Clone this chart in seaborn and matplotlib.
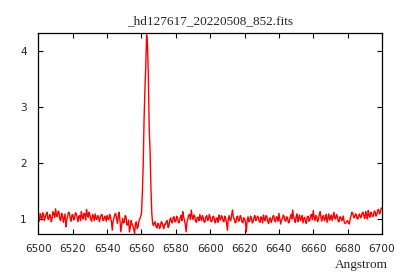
import numpy as np
import pandas as pd
import seaborn as sns
import matplotlib
matplotlib.use("Agg")
import matplotlib.pyplot as plt

# spectrum, 0.5 A sampling
wave_blue = np.linspace(6500, 6559, 119)
flux_blue = [
    1.02, 0.96, 1.10, 1.04, 0.98, 1.11, 1.08, 0.97, 1.03, 1.09,
    1.12, 1.00, 0.99, 1.08, 1.06, 0.95, 1.01, 1.13, 1.09, 1.03,
    1.18, 1.07, 1.04, 1.14, 1.12, 0.99, 0.97, 1.10, 1.07, 0.94,
    1.02, 1.09, 0.86, 0.98, 1.05, 1.12, 1.11, 1.01, 0.96, 1.07,
    1.08, 0.98, 1.01, 1.11, 1.10, 1.02, 0.95, 1.05, 1.06, 0.97,
    1.13, 1.04, 1.00, 1.10, 1.09, 0.98, 1.17, 1.08, 1.03, 1.12,
    1.07, 0.99, 0.96, 1.08, 1.05, 0.97, 1.09, 1.01, 0.99, 1.06,
    1.04, 0.95, 1.02, 1.07, 1.08, 0.98, 0.97, 1.05, 1.03, 0.96,
    1.06, 1.00, 0.99, 1.08, 1.03, 0.95, 0.80, 0.97, 1.02, 1.08,
    1.10, 1.01, 0.92, 1.05, 1.12, 0.96, 0.77, 0.90, 1.01, 0.93,
    0.94, 1.06, 1.04, 0.89, 0.90, 0.98, 0.77, 0.85, 0.97, 0.91,
    0.88, 0.81, 0.74, 0.92, 0.95, 0.83, 0.86, 0.96, 1.00,
]

# H-alpha emission core
wave_core = [6559.5, 6560.0, 6560.5, 6561.0, 6561.5, 6562.0, 6562.5, 6563.0,
             6563.5, 6564.0, 6564.5, 6565.0, 6565.5, 6566.0, 6566.5]
flux_core = [1.04, 1.10, 1.45, 1.95, 2.77, 3.30, 3.74, 4.29,
             4.12, 3.54, 2.60, 2.22, 1.55, 1.10, 0.92]

wave_red = np.linspace(6567, 6700, 267)
flux_red = [
    0.88, 0.93, 0.95, 0.86, 0.84, 0.92, 0.91, 0.83, 0.86, 0.95,
    0.94, 0.87, 0.83, 0.91, 0.90, 0.96, 0.97, 0.85, 0.88, 0.99,
    1.02, 0.94, 0.93, 1.03, 1.04, 0.95, 0.96, 1.05, 1.01, 0.93,
    0.94, 1.02, 1.06, 0.97, 1.13, 1.04, 0.98, 0.90, 0.77, 0.95,
    1.00, 1.07, 1.08, 0.99, 1.16, 1.05, 0.99, 1.07, 1.05, 0.96,
    0.94, 1.03, 1.03, 0.97, 1.08, 1.01, 0.97, 1.06, 1.02, 0.94,
    0.95, 1.04, 1.06, 0.97, 0.99, 1.08, 1.03, 0.95, 0.96, 1.04,
    1.05, 0.97, 0.93, 1.02, 1.01, 0.94, 1.07, 1.00, 0.98, 1.06,
    1.04, 0.96, 0.95, 1.05, 1.02, 0.93, 0.80, 0.99, 1.06, 0.98,
    0.97, 1.08, 1.16, 1.02, 1.01, 0.93, 0.94, 1.04, 1.05, 0.96,
    0.98, 1.06, 1.03, 0.95, 0.93, 1.02, 1.00, 0.94, 0.77, 0.97,
    1.04, 0.95, 0.96, 1.05, 1.02, 0.93, 0.95, 1.03, 1.06, 0.97,
    0.99, 1.05, 1.03, 0.96, 0.94, 1.04, 1.01, 0.93, 1.07, 1.00,
    0.97, 1.06, 1.04, 0.95, 0.92, 1.01, 1.02, 0.94, 0.98, 1.05,
    1.06, 0.97, 0.95, 1.04, 1.03, 0.96, 1.10, 1.01, 0.91, 0.98,
    1.00, 1.07, 1.05, 0.97, 0.96, 1.04, 1.02, 0.93, 0.94, 1.03,
    1.08, 1.00, 1.16, 1.05, 0.99, 0.94, 1.04, 1.09, 0.95, 1.02,
    1.07, 0.97, 1.00, 1.06, 0.93, 1.01, 1.03, 0.95, 0.92, 1.04,
    1.05, 0.96, 0.98, 1.07, 1.08, 0.99, 1.15, 1.04, 0.97, 1.06,
    1.04, 0.95, 0.99, 1.08, 1.13, 1.02, 0.96, 1.05, 1.06, 0.97,
    1.01, 1.08, 0.94, 1.02, 1.09, 0.98, 1.02, 1.07, 0.97, 1.04,
    1.12, 1.01, 1.00, 1.08, 1.05, 0.96, 0.95, 1.04, 1.03, 0.97,
    0.99, 1.05, 0.94, 0.92, 0.93, 0.96, 0.97, 0.92, 0.91, 1.00,
    1.06, 1.12, 1.10, 1.03, 1.02, 1.09, 1.08, 1.01, 1.00, 1.07,
    1.09, 1.02, 1.04, 1.11, 1.12, 1.05, 1.01, 1.13, 1.07, 1.00,
    1.15, 1.06, 1.03, 1.12, 1.10, 1.04, 1.06, 1.14, 1.13, 1.05,
    1.08, 1.16, 1.17, 1.09, 1.11, 1.19, 1.20,
]

x_ticks = [6500, 6520, 6540, 6560, 6580, 6600, 6620, 6640, 6660, 6680, 6700]
y_ticks = [1, 2, 3, 4]
title = "_hd127617_20220508_852.fits"

df = pd.DataFrame({
    "wave": np.concatenate([wave_blue, wave_core, wave_red]),
    "flux": np.concatenate([flux_blue, flux_core, flux_red]),
})

sns.set_style("ticks")
plt.rcParams["font.family"] = ["DejaVu Sans"]

fig = plt.figure(figsize=(4, 2.8), dpi=100)
ax = fig.add_axes([0.096, 0.164, 0.859, 0.718])

sns.lineplot(data=df, x="wave", y="flux", ax=ax, color="#ff0000",
             linewidth=1.0, estimator=None, sort=False)

ax.set_xlim(6500, 6700)
ax.set_ylim(0.73, 4.32)
ax.set_xticks(x_ticks)
ax.set_yticks(y_ticks)
ax.tick_params(direction="in", top=True, right=True, length=3.5,
               width=0.8, labelsize=7.6, color="black")
ax.tick_params(axis="x", pad=7.5)
ax.tick_params(axis="y", pad=8.5)
for s in ax.spines.values():
    s.set_visible(True)
    s.set_color("black")
    s.set_linewidth(0.9)

ax.set_xlabel("")
ax.set_ylabel("")
fig.text(0.5262, 0.925, title, ha="center", va="center",
         family="Liberation Serif", fontsize=9.5)
fig.text(0.9025, 0.055, "Angstrom", ha="center", va="center",
         family="Liberation Serif", fontsize=9.5)

fig.savefig("out.png", dpi=100)
